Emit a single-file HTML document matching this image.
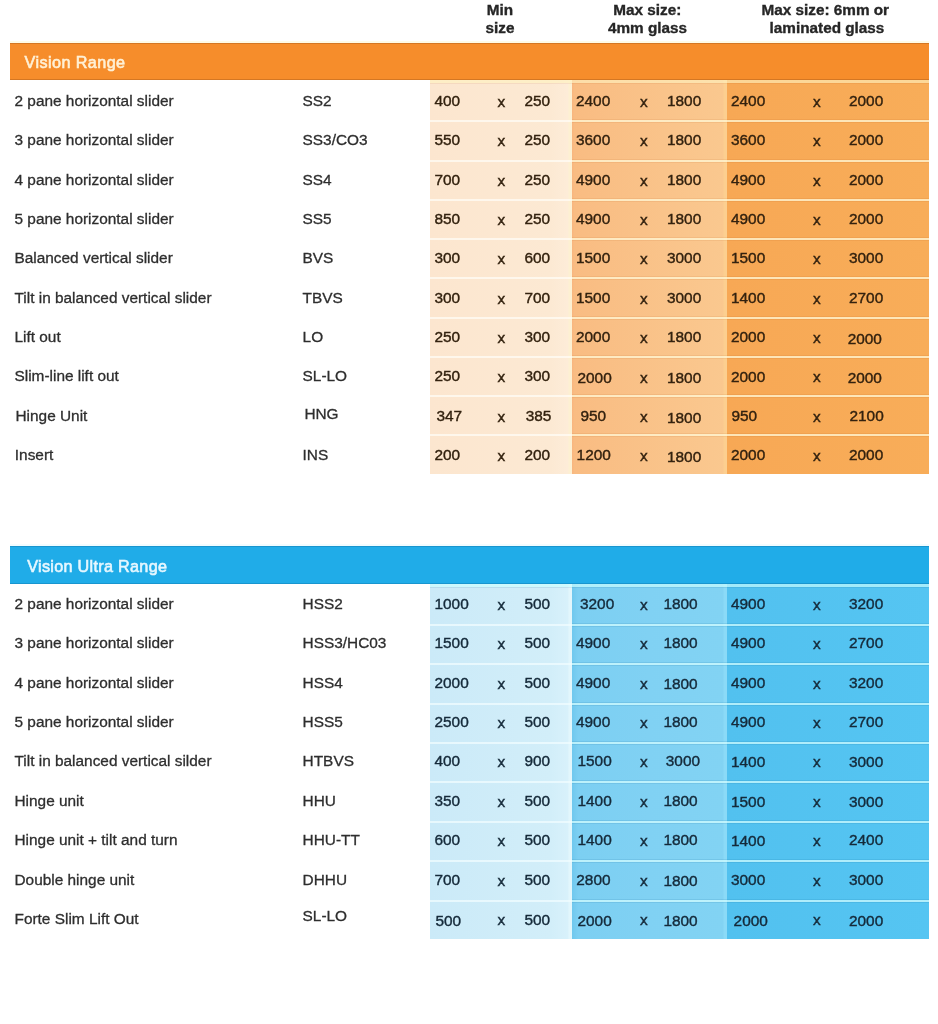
<!DOCTYPE html><html><head><meta charset="utf-8"><style>
*{margin:0;padding:0;box-sizing:border-box}
html,body{width:938px;height:1024px;background:#fff;overflow:hidden}
body{position:relative;font-family:"Liberation Sans",Arial,Helvetica,sans-serif;color:#333;font-size:15.4px}
.a{position:absolute}
.t{position:absolute;white-space:nowrap;line-height:18px;font-size:15.4px;-webkit-text-stroke:0.3px #2e2e2e;color:#2e2e2e}
.o .t2{color:#33220f;-webkit-text-stroke:0.4px #33220f}
.b .t2{color:#152a3a;-webkit-text-stroke:0.4px #152a3a}
.h{position:absolute;white-space:nowrap;font-weight:bold;line-height:18px;font-size:15.3px;color:#262626;text-align:center;width:200px;-webkit-text-stroke:0.35px #262626}
.bar{position:absolute;left:10px;width:919px;height:37.5px}
#w{position:absolute;left:0;top:0;width:938px;height:1024px;filter:blur(0.6px)}
.bt{position:absolute;white-space:nowrap;font-size:16.8px;line-height:20px;left:25px;-webkit-text-stroke:0.6px currentColor}
</style></head><body><div id="w">
<div class="h" style="left:400.00px;top:1.36px">Min</div>
<div class="h" style="left:400.00px;top:18.96px">size</div>
<div class="h" style="left:547.30px;top:1.36px">Max size:</div>
<div class="h" style="left:547.50px;top:18.96px">4mm glass</div>
<div class="h" style="left:725.30px;top:1.36px">Max size: 6mm or</div>
<div class="h" style="left:727.00px;top:18.96px">laminated glass</div>
<div class="o">
<div class="bar" style="top:41px;height:2px;background:#fffbe6"></div>
<div class="bar" style="top:43px;height:37.00px;background:#f68d2b;box-shadow:inset 0 1px 0 rgba(150,80,20,0.35),inset 0 -1px 0 rgba(150,80,20,0.35)"></div>
<div class="bt" style="left:24.5px;top:52.20px;font-size:16.2px;letter-spacing:0.42px;color:#fff1d6">Vision Range</div>
<div class="a" style="left:430px;top:80px;width:141.50px;height:394.00px;background:linear-gradient(90deg,#fce6cf 0%,#fce9d3 85%,#fdecd8 97%,#fdf0d2 98%,#fdf0d2 100%)"></div>
<div class="a" style="left:571.5px;top:80px;width:155.50px;height:394.00px;background:linear-gradient(90deg,#f8b57f 0%,#f9bc82 1.5%,#fac88f 97.5%,#fccf90 98%,#fccf90 100%)"></div>
<div class="a" style="left:727px;top:80px;width:202.00px;height:394.00px;background:linear-gradient(90deg,#f7a855,#f8ad59)"></div>
<div class="a" style="left:430px;top:80.00px;width:499px;height:3.00px;background:rgba(255,242,192,0.62)"></div>
<div class="a" style="left:430px;top:83.00px;width:499px;height:1px;background:rgba(160,70,0,0.08)"></div>
<div class="a" style="left:571.5px;top:119.30px;width:357.5px;height:1px;background:rgba(160,70,0,0.08)"></div>
<div class="a" style="left:430px;top:120.30px;width:141.5px;height:2px;background:rgba(255,252,246,0.75)"></div>
<div class="a" style="left:571.5px;top:120.30px;width:357.5px;height:2px;background:rgba(255,246,212,0.78)"></div>
<div class="a" style="left:571.5px;top:122.30px;width:357.5px;height:1px;background:rgba(160,70,0,0.08)"></div>
<div class="a" style="left:571.5px;top:158.56px;width:357.5px;height:1px;background:rgba(160,70,0,0.08)"></div>
<div class="a" style="left:430px;top:159.56px;width:141.5px;height:2px;background:rgba(255,252,246,0.75)"></div>
<div class="a" style="left:571.5px;top:159.56px;width:357.5px;height:2px;background:rgba(255,246,212,0.78)"></div>
<div class="a" style="left:571.5px;top:161.56px;width:357.5px;height:1px;background:rgba(160,70,0,0.08)"></div>
<div class="a" style="left:571.5px;top:197.82px;width:357.5px;height:1px;background:rgba(160,70,0,0.08)"></div>
<div class="a" style="left:430px;top:198.82px;width:141.5px;height:2px;background:rgba(255,252,246,0.75)"></div>
<div class="a" style="left:571.5px;top:198.82px;width:357.5px;height:2px;background:rgba(255,246,212,0.78)"></div>
<div class="a" style="left:571.5px;top:200.82px;width:357.5px;height:1px;background:rgba(160,70,0,0.08)"></div>
<div class="a" style="left:571.5px;top:237.08px;width:357.5px;height:1px;background:rgba(160,70,0,0.08)"></div>
<div class="a" style="left:430px;top:238.08px;width:141.5px;height:2px;background:rgba(255,252,246,0.75)"></div>
<div class="a" style="left:571.5px;top:238.08px;width:357.5px;height:2px;background:rgba(255,246,212,0.78)"></div>
<div class="a" style="left:571.5px;top:240.08px;width:357.5px;height:1px;background:rgba(160,70,0,0.08)"></div>
<div class="a" style="left:571.5px;top:276.34px;width:357.5px;height:1px;background:rgba(160,70,0,0.08)"></div>
<div class="a" style="left:430px;top:277.34px;width:141.5px;height:2px;background:rgba(255,252,246,0.75)"></div>
<div class="a" style="left:571.5px;top:277.34px;width:357.5px;height:2px;background:rgba(255,246,212,0.78)"></div>
<div class="a" style="left:571.5px;top:279.34px;width:357.5px;height:1px;background:rgba(160,70,0,0.08)"></div>
<div class="a" style="left:571.5px;top:315.60px;width:357.5px;height:1px;background:rgba(160,70,0,0.08)"></div>
<div class="a" style="left:430px;top:316.60px;width:141.5px;height:2px;background:rgba(255,252,246,0.75)"></div>
<div class="a" style="left:571.5px;top:316.60px;width:357.5px;height:2px;background:rgba(255,246,212,0.78)"></div>
<div class="a" style="left:571.5px;top:318.60px;width:357.5px;height:1px;background:rgba(160,70,0,0.08)"></div>
<div class="a" style="left:571.5px;top:354.86px;width:357.5px;height:1px;background:rgba(160,70,0,0.08)"></div>
<div class="a" style="left:430px;top:355.86px;width:141.5px;height:2px;background:rgba(255,252,246,0.75)"></div>
<div class="a" style="left:571.5px;top:355.86px;width:357.5px;height:2px;background:rgba(255,246,212,0.78)"></div>
<div class="a" style="left:571.5px;top:357.86px;width:357.5px;height:1px;background:rgba(160,70,0,0.08)"></div>
<div class="a" style="left:571.5px;top:394.12px;width:357.5px;height:1px;background:rgba(160,70,0,0.08)"></div>
<div class="a" style="left:430px;top:395.12px;width:141.5px;height:2px;background:rgba(255,252,246,0.75)"></div>
<div class="a" style="left:571.5px;top:395.12px;width:357.5px;height:2px;background:rgba(255,246,212,0.78)"></div>
<div class="a" style="left:571.5px;top:397.12px;width:357.5px;height:1px;background:rgba(160,70,0,0.08)"></div>
<div class="a" style="left:571.5px;top:433.38px;width:357.5px;height:1px;background:rgba(160,70,0,0.08)"></div>
<div class="a" style="left:430px;top:434.38px;width:141.5px;height:2px;background:rgba(255,252,246,0.75)"></div>
<div class="a" style="left:571.5px;top:434.38px;width:357.5px;height:2px;background:rgba(255,246,212,0.78)"></div>
<div class="a" style="left:571.5px;top:436.38px;width:357.5px;height:1px;background:rgba(160,70,0,0.08)"></div>
<div class="t " style="left:14.50px;top:92.16px">2 pane horizontal slider</div>
<div class="t " style="left:302.60px;top:92.16px">SS2</div>
<div class="t t2" style="left:434.50px;top:92.16px">400</div>
<div class="t t2" style="left:524.50px;top:92.16px">250</div>
<div class="t t2" style="left:576.00px;top:92.16px">2400</div>
<div class="t t2" style="left:667.00px;top:92.16px">1800</div>
<div class="t t2" style="left:731.00px;top:92.16px">2400</div>
<div class="t t2" style="left:849.00px;top:92.16px">2000</div>
<div class="t t2" style="left:497.50px;top:93.16px">x</div>
<div class="t t2" style="left:640.00px;top:93.16px">x</div>
<div class="t t2" style="left:813.00px;top:93.16px">x</div>
<div class="t " style="left:14.50px;top:131.46px">3 pane horizontal slider</div>
<div class="t " style="left:302.60px;top:131.46px">SS3/CO3</div>
<div class="t t2" style="left:434.50px;top:131.46px">550</div>
<div class="t t2" style="left:524.50px;top:131.46px">250</div>
<div class="t t2" style="left:576.00px;top:131.46px">3600</div>
<div class="t t2" style="left:667.00px;top:131.46px">1800</div>
<div class="t t2" style="left:731.00px;top:131.46px">3600</div>
<div class="t t2" style="left:849.00px;top:131.46px">2000</div>
<div class="t t2" style="left:497.50px;top:132.46px">x</div>
<div class="t t2" style="left:640.00px;top:132.46px">x</div>
<div class="t t2" style="left:813.00px;top:132.46px">x</div>
<div class="t " style="left:14.50px;top:170.76px">4 pane horizontal slider</div>
<div class="t " style="left:302.60px;top:170.76px">SS4</div>
<div class="t t2" style="left:434.50px;top:170.76px">700</div>
<div class="t t2" style="left:524.50px;top:170.76px">250</div>
<div class="t t2" style="left:576.00px;top:170.76px">4900</div>
<div class="t t2" style="left:667.00px;top:170.76px">1800</div>
<div class="t t2" style="left:731.00px;top:170.76px">4900</div>
<div class="t t2" style="left:849.00px;top:170.76px">2000</div>
<div class="t t2" style="left:497.50px;top:171.76px">x</div>
<div class="t t2" style="left:640.00px;top:171.76px">x</div>
<div class="t t2" style="left:813.00px;top:171.76px">x</div>
<div class="t " style="left:14.50px;top:210.06px">5 pane horizontal slider</div>
<div class="t " style="left:302.60px;top:210.06px">SS5</div>
<div class="t t2" style="left:434.50px;top:210.06px">850</div>
<div class="t t2" style="left:524.50px;top:210.06px">250</div>
<div class="t t2" style="left:576.00px;top:210.06px">4900</div>
<div class="t t2" style="left:667.00px;top:210.06px">1800</div>
<div class="t t2" style="left:731.00px;top:210.06px">4900</div>
<div class="t t2" style="left:849.00px;top:210.06px">2000</div>
<div class="t t2" style="left:497.50px;top:211.06px">x</div>
<div class="t t2" style="left:640.00px;top:211.06px">x</div>
<div class="t t2" style="left:813.00px;top:211.06px">x</div>
<div class="t " style="left:14.50px;top:249.36px">Balanced vertical slider</div>
<div class="t " style="left:302.60px;top:249.36px">BVS</div>
<div class="t t2" style="left:434.50px;top:249.36px">300</div>
<div class="t t2" style="left:524.50px;top:249.36px">600</div>
<div class="t t2" style="left:576.00px;top:249.36px">1500</div>
<div class="t t2" style="left:667.00px;top:249.36px">3000</div>
<div class="t t2" style="left:731.00px;top:249.36px">1500</div>
<div class="t t2" style="left:849.00px;top:249.36px">3000</div>
<div class="t t2" style="left:497.50px;top:250.36px">x</div>
<div class="t t2" style="left:640.00px;top:250.36px">x</div>
<div class="t t2" style="left:813.00px;top:250.36px">x</div>
<div class="t " style="left:14.50px;top:288.66px">Tilt in balanced vertical slider</div>
<div class="t " style="left:302.60px;top:288.66px">TBVS</div>
<div class="t t2" style="left:434.50px;top:288.66px">300</div>
<div class="t t2" style="left:524.50px;top:288.66px">700</div>
<div class="t t2" style="left:576.00px;top:288.66px">1500</div>
<div class="t t2" style="left:667.00px;top:288.66px">3000</div>
<div class="t t2" style="left:731.00px;top:288.66px">1400</div>
<div class="t t2" style="left:849.00px;top:288.66px">2700</div>
<div class="t t2" style="left:497.50px;top:289.66px">x</div>
<div class="t t2" style="left:640.00px;top:289.66px">x</div>
<div class="t t2" style="left:813.00px;top:289.66px">x</div>
<div class="t " style="left:14.50px;top:327.96px">Lift out</div>
<div class="t " style="left:302.60px;top:327.96px">LO</div>
<div class="t t2" style="left:434.50px;top:327.96px">250</div>
<div class="t t2" style="left:524.50px;top:327.96px">300</div>
<div class="t t2" style="left:576.00px;top:327.96px">2000</div>
<div class="t t2" style="left:667.00px;top:327.96px">1800</div>
<div class="t t2" style="left:731.00px;top:327.96px">2000</div>
<div class="t t2" style="left:847.70px;top:330.46px">2000</div>
<div class="t t2" style="left:497.50px;top:328.96px">x</div>
<div class="t t2" style="left:640.00px;top:328.96px">x</div>
<div class="t t2" style="left:813.00px;top:328.96px">x</div>
<div class="t " style="left:14.50px;top:367.26px">Slim-line lift out</div>
<div class="t " style="left:302.60px;top:367.26px">SL-LO</div>
<div class="t t2" style="left:434.50px;top:367.26px">250</div>
<div class="t t2" style="left:524.50px;top:367.26px">300</div>
<div class="t t2" style="left:577.50px;top:368.76px">2000</div>
<div class="t t2" style="left:667.00px;top:369.26px">1800</div>
<div class="t t2" style="left:731.00px;top:368.26px">2000</div>
<div class="t t2" style="left:847.70px;top:369.26px">2000</div>
<div class="t t2" style="left:497.50px;top:368.26px">x</div>
<div class="t t2" style="left:640.00px;top:369.26px">x</div>
<div class="t t2" style="left:813.00px;top:368.26px">x</div>
<div class="t " style="left:15.50px;top:407.06px">Hinge Unit</div>
<div class="t " style="left:304.40px;top:405.26px">HNG</div>
<div class="t t2" style="left:436.50px;top:407.26px">347</div>
<div class="t t2" style="left:525.70px;top:407.06px">385</div>
<div class="t t2" style="left:580.50px;top:406.56px">950</div>
<div class="t t2" style="left:667.00px;top:408.56px">1800</div>
<div class="t t2" style="left:731.50px;top:407.06px">950</div>
<div class="t t2" style="left:849.50px;top:407.06px">2100</div>
<div class="t t2" style="left:497.50px;top:407.56px">x</div>
<div class="t t2" style="left:640.00px;top:407.56px">x</div>
<div class="t t2" style="left:813.00px;top:407.56px">x</div>
<div class="t " style="left:14.80px;top:446.36px">Insert</div>
<div class="t " style="left:302.60px;top:445.86px">INS</div>
<div class="t t2" style="left:434.50px;top:445.86px">200</div>
<div class="t t2" style="left:524.50px;top:445.86px">200</div>
<div class="t t2" style="left:576.60px;top:445.86px">1200</div>
<div class="t t2" style="left:667.00px;top:448.36px">1800</div>
<div class="t t2" style="left:731.00px;top:445.86px">2000</div>
<div class="t t2" style="left:849.00px;top:446.36px">2000</div>
<div class="t t2" style="left:497.50px;top:446.86px">x</div>
<div class="t t2" style="left:640.00px;top:446.86px">x</div>
<div class="t t2" style="left:813.00px;top:446.86px">x</div>
</div>
<div class="b">
<div class="bar" style="top:544px;height:2px;background:#f2fcff"></div>
<div class="bar" style="top:546px;height:37.50px;background:#20ace8;box-shadow:inset 0 1px 0 rgba(0,80,130,0.25),inset 0 -1px 0 rgba(0,80,130,0.25)"></div>
<div class="bt" style="left:27.2px;top:555.70px;font-size:16.2px;letter-spacing:0.3px;color:#e6f7ff">Vision Ultra Range</div>
<div class="a" style="left:430px;top:583.5px;width:141.50px;height:355.40px;background:linear-gradient(90deg,#cbeaf8 0%,#d2eef9 85%,#d8f1fb 97%,#e2f6fc 98%,#e2f6fc 100%)"></div>
<div class="a" style="left:571.5px;top:583.5px;width:155.50px;height:355.40px;background:linear-gradient(90deg,#6fc8ee 0%,#7ccff2 4%,#80d1f3 50%,#82d3f3 97.5%,#8bdaf7 98%,#8bdaf7 100%)"></div>
<div class="a" style="left:727px;top:583.5px;width:202.00px;height:355.40px;background:linear-gradient(90deg,#52c1ef,#55c5f2)"></div>
<div class="a" style="left:430px;top:583.50px;width:499px;height:3.00px;background:rgba(205,255,255,0.66)"></div>
<div class="a" style="left:430px;top:586.50px;width:499px;height:1px;background:rgba(0,90,140,0.10)"></div>
<div class="a" style="left:571.5px;top:622.70px;width:357.5px;height:1px;background:rgba(0,90,140,0.10)"></div>
<div class="a" style="left:430px;top:623.70px;width:141.5px;height:2px;background:rgba(240,252,255,0.75)"></div>
<div class="a" style="left:571.5px;top:623.70px;width:357.5px;height:2px;background:rgba(215,255,255,0.7)"></div>
<div class="a" style="left:571.5px;top:625.70px;width:357.5px;height:1px;background:rgba(0,90,140,0.10)"></div>
<div class="a" style="left:571.5px;top:662.11px;width:357.5px;height:1px;background:rgba(0,90,140,0.10)"></div>
<div class="a" style="left:430px;top:663.11px;width:141.5px;height:2px;background:rgba(240,252,255,0.75)"></div>
<div class="a" style="left:571.5px;top:663.11px;width:357.5px;height:2px;background:rgba(215,255,255,0.7)"></div>
<div class="a" style="left:571.5px;top:665.11px;width:357.5px;height:1px;background:rgba(0,90,140,0.10)"></div>
<div class="a" style="left:571.5px;top:701.52px;width:357.5px;height:1px;background:rgba(0,90,140,0.10)"></div>
<div class="a" style="left:430px;top:702.52px;width:141.5px;height:2px;background:rgba(240,252,255,0.75)"></div>
<div class="a" style="left:571.5px;top:702.52px;width:357.5px;height:2px;background:rgba(215,255,255,0.7)"></div>
<div class="a" style="left:571.5px;top:704.52px;width:357.5px;height:1px;background:rgba(0,90,140,0.10)"></div>
<div class="a" style="left:571.5px;top:740.93px;width:357.5px;height:1px;background:rgba(0,90,140,0.10)"></div>
<div class="a" style="left:430px;top:741.93px;width:141.5px;height:2px;background:rgba(240,252,255,0.75)"></div>
<div class="a" style="left:571.5px;top:741.93px;width:357.5px;height:2px;background:rgba(215,255,255,0.7)"></div>
<div class="a" style="left:571.5px;top:743.93px;width:357.5px;height:1px;background:rgba(0,90,140,0.10)"></div>
<div class="a" style="left:571.5px;top:780.34px;width:357.5px;height:1px;background:rgba(0,90,140,0.10)"></div>
<div class="a" style="left:430px;top:781.34px;width:141.5px;height:2px;background:rgba(240,252,255,0.75)"></div>
<div class="a" style="left:571.5px;top:781.34px;width:357.5px;height:2px;background:rgba(215,255,255,0.7)"></div>
<div class="a" style="left:571.5px;top:783.34px;width:357.5px;height:1px;background:rgba(0,90,140,0.10)"></div>
<div class="a" style="left:571.5px;top:819.75px;width:357.5px;height:1px;background:rgba(0,90,140,0.10)"></div>
<div class="a" style="left:430px;top:820.75px;width:141.5px;height:2px;background:rgba(240,252,255,0.75)"></div>
<div class="a" style="left:571.5px;top:820.75px;width:357.5px;height:2px;background:rgba(215,255,255,0.7)"></div>
<div class="a" style="left:571.5px;top:822.75px;width:357.5px;height:1px;background:rgba(0,90,140,0.10)"></div>
<div class="a" style="left:571.5px;top:859.16px;width:357.5px;height:1px;background:rgba(0,90,140,0.10)"></div>
<div class="a" style="left:430px;top:860.16px;width:141.5px;height:2px;background:rgba(240,252,255,0.75)"></div>
<div class="a" style="left:571.5px;top:860.16px;width:357.5px;height:2px;background:rgba(215,255,255,0.7)"></div>
<div class="a" style="left:571.5px;top:862.16px;width:357.5px;height:1px;background:rgba(0,90,140,0.10)"></div>
<div class="a" style="left:571.5px;top:898.57px;width:357.5px;height:1px;background:rgba(0,90,140,0.10)"></div>
<div class="a" style="left:430px;top:899.57px;width:141.5px;height:2px;background:rgba(240,252,255,0.75)"></div>
<div class="a" style="left:571.5px;top:899.57px;width:357.5px;height:2px;background:rgba(215,255,255,0.7)"></div>
<div class="a" style="left:571.5px;top:901.57px;width:357.5px;height:1px;background:rgba(0,90,140,0.10)"></div>
<div class="t " style="left:14.50px;top:594.86px">2 pane horizontal slider</div>
<div class="t " style="left:302.60px;top:594.86px">HSS2</div>
<div class="t t2" style="left:434.50px;top:594.86px">1000</div>
<div class="t t2" style="left:524.50px;top:594.86px">500</div>
<div class="t t2" style="left:580.00px;top:594.86px">3200</div>
<div class="t t2" style="left:663.40px;top:594.86px">1800</div>
<div class="t t2" style="left:731.00px;top:594.86px">4900</div>
<div class="t t2" style="left:849.00px;top:594.86px">3200</div>
<div class="t t2" style="left:497.50px;top:595.86px">x</div>
<div class="t t2" style="left:640.00px;top:595.86px">x</div>
<div class="t t2" style="left:813.00px;top:595.86px">x</div>
<div class="t " style="left:14.50px;top:634.26px">3 pane horizontal slider</div>
<div class="t " style="left:302.60px;top:634.26px">HSS3/HC03</div>
<div class="t t2" style="left:434.50px;top:634.26px">1500</div>
<div class="t t2" style="left:524.50px;top:634.26px">500</div>
<div class="t t2" style="left:576.00px;top:634.26px">4900</div>
<div class="t t2" style="left:663.40px;top:634.26px">1800</div>
<div class="t t2" style="left:731.00px;top:634.26px">4900</div>
<div class="t t2" style="left:849.00px;top:634.26px">2700</div>
<div class="t t2" style="left:497.50px;top:635.26px">x</div>
<div class="t t2" style="left:640.00px;top:635.26px">x</div>
<div class="t t2" style="left:813.00px;top:635.26px">x</div>
<div class="t " style="left:14.50px;top:673.66px">4 pane horizontal slider</div>
<div class="t " style="left:302.60px;top:673.66px">HSS4</div>
<div class="t t2" style="left:434.50px;top:673.66px">2000</div>
<div class="t t2" style="left:524.50px;top:673.66px">500</div>
<div class="t t2" style="left:576.00px;top:673.66px">4900</div>
<div class="t t2" style="left:663.40px;top:675.16px">1800</div>
<div class="t t2" style="left:731.00px;top:673.66px">4900</div>
<div class="t t2" style="left:849.00px;top:673.66px">3200</div>
<div class="t t2" style="left:497.50px;top:674.66px">x</div>
<div class="t t2" style="left:640.00px;top:674.66px">x</div>
<div class="t t2" style="left:813.00px;top:674.66px">x</div>
<div class="t " style="left:14.50px;top:713.06px">5 pane horizontal slider</div>
<div class="t " style="left:302.60px;top:713.06px">HSS5</div>
<div class="t t2" style="left:434.50px;top:713.06px">2500</div>
<div class="t t2" style="left:524.50px;top:713.06px">500</div>
<div class="t t2" style="left:576.00px;top:713.06px">4900</div>
<div class="t t2" style="left:663.40px;top:712.56px">1800</div>
<div class="t t2" style="left:731.00px;top:713.06px">4900</div>
<div class="t t2" style="left:849.00px;top:713.06px">2700</div>
<div class="t t2" style="left:497.50px;top:714.06px">x</div>
<div class="t t2" style="left:640.00px;top:714.06px">x</div>
<div class="t t2" style="left:813.00px;top:714.06px">x</div>
<div class="t " style="left:14.50px;top:752.46px">Tilt in balanced vertical silder</div>
<div class="t " style="left:302.60px;top:752.46px">HTBVS</div>
<div class="t t2" style="left:434.50px;top:752.46px">400</div>
<div class="t t2" style="left:524.50px;top:752.46px">900</div>
<div class="t t2" style="left:577.50px;top:752.46px">1500</div>
<div class="t t2" style="left:665.80px;top:752.46px">3000</div>
<div class="t t2" style="left:731.00px;top:753.46px">1400</div>
<div class="t t2" style="left:849.00px;top:753.46px">3000</div>
<div class="t t2" style="left:497.50px;top:753.46px">x</div>
<div class="t t2" style="left:640.00px;top:753.46px">x</div>
<div class="t t2" style="left:813.00px;top:753.46px">x</div>
<div class="t " style="left:14.50px;top:791.86px">Hinge unit</div>
<div class="t " style="left:302.60px;top:791.86px">HHU</div>
<div class="t t2" style="left:434.50px;top:791.86px">350</div>
<div class="t t2" style="left:524.50px;top:791.86px">500</div>
<div class="t t2" style="left:577.50px;top:791.86px">1400</div>
<div class="t t2" style="left:663.40px;top:791.86px">1800</div>
<div class="t t2" style="left:731.00px;top:792.86px">1500</div>
<div class="t t2" style="left:849.00px;top:792.86px">3000</div>
<div class="t t2" style="left:497.50px;top:792.86px">x</div>
<div class="t t2" style="left:640.00px;top:792.86px">x</div>
<div class="t t2" style="left:813.00px;top:792.86px">x</div>
<div class="t " style="left:14.50px;top:831.26px">Hinge unit + tilt and turn</div>
<div class="t " style="left:302.60px;top:831.26px">HHU-TT</div>
<div class="t t2" style="left:434.50px;top:831.26px">600</div>
<div class="t t2" style="left:524.50px;top:831.26px">500</div>
<div class="t t2" style="left:577.50px;top:831.26px">1400</div>
<div class="t t2" style="left:663.40px;top:831.26px">1800</div>
<div class="t t2" style="left:731.00px;top:832.26px">1400</div>
<div class="t t2" style="left:849.00px;top:831.26px">2400</div>
<div class="t t2" style="left:497.50px;top:832.26px">x</div>
<div class="t t2" style="left:640.00px;top:832.26px">x</div>
<div class="t t2" style="left:813.00px;top:832.26px">x</div>
<div class="t " style="left:14.50px;top:870.66px">Double hinge unit</div>
<div class="t " style="left:302.60px;top:870.66px">DHHU</div>
<div class="t t2" style="left:434.50px;top:870.66px">700</div>
<div class="t t2" style="left:524.50px;top:870.66px">500</div>
<div class="t t2" style="left:576.30px;top:870.66px">2800</div>
<div class="t t2" style="left:663.40px;top:872.16px">1800</div>
<div class="t t2" style="left:731.00px;top:870.66px">3000</div>
<div class="t t2" style="left:849.00px;top:870.66px">3000</div>
<div class="t t2" style="left:497.50px;top:871.66px">x</div>
<div class="t t2" style="left:640.00px;top:871.66px">x</div>
<div class="t t2" style="left:813.00px;top:871.66px">x</div>
<div class="t " style="left:14.50px;top:910.06px">Forte Slim Lift Out</div>
<div class="t " style="left:302.60px;top:907.06px">SL-LO</div>
<div class="t t2" style="left:435.50px;top:911.56px">500</div>
<div class="t t2" style="left:524.50px;top:911.06px">500</div>
<div class="t t2" style="left:577.50px;top:912.06px">2000</div>
<div class="t t2" style="left:663.40px;top:911.56px">1800</div>
<div class="t t2" style="left:733.60px;top:912.06px">2000</div>
<div class="t t2" style="left:849.00px;top:912.06px">2000</div>
<div class="t t2" style="left:497.50px;top:911.06px">x</div>
<div class="t t2" style="left:640.00px;top:911.06px">x</div>
<div class="t t2" style="left:813.00px;top:911.06px">x</div>
</div>
</div></body></html>
